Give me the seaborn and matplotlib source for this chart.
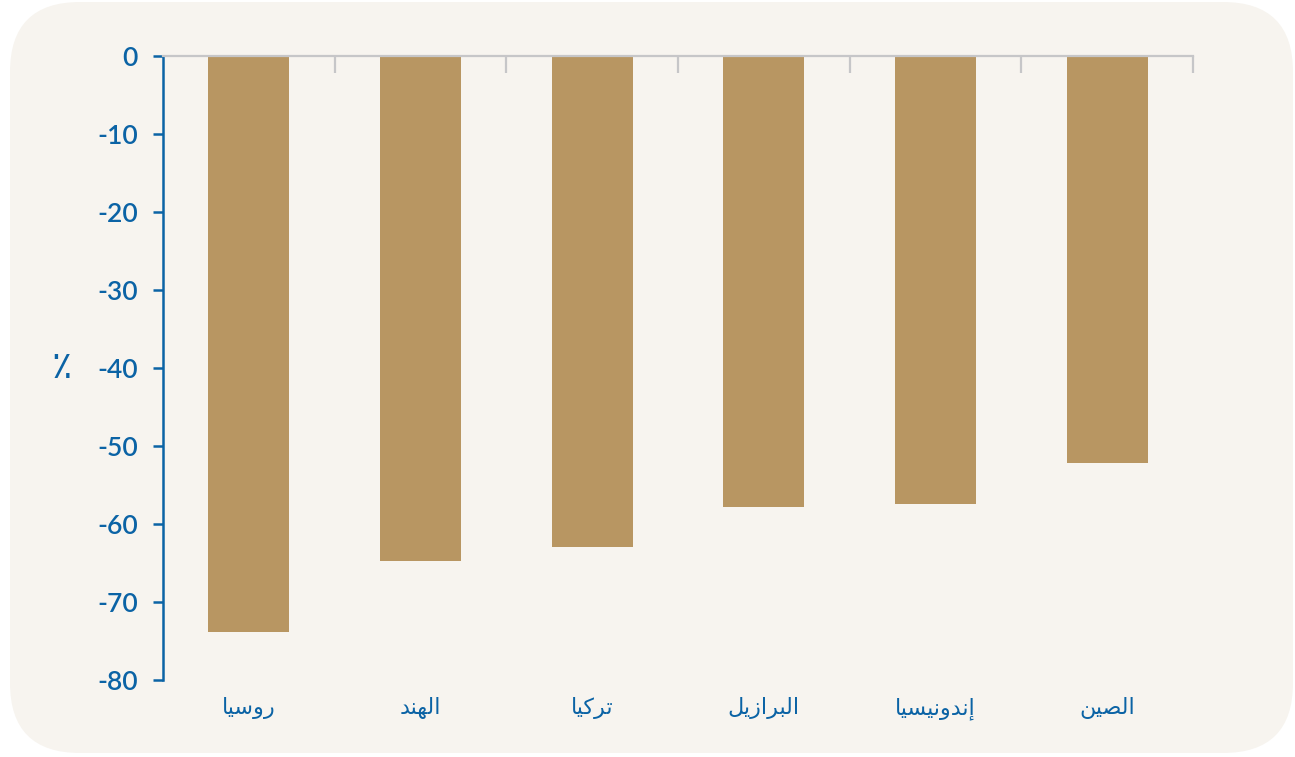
import matplotlib
matplotlib.use("Agg")
import matplotlib.pyplot as plt
from matplotlib.patches import FancyBboxPatch
from matplotlib.transforms import IdentityTransform
import seaborn as sns
import pandas as pd

# Arabic country names, written in presentation forms in visual order
# (matplotlib does no shaping / bidi on its own)
countries = [
    "\uFE8E\uFEF4\uFEB3\uFEED\uFEAD",                          # روسيا
    "\uFEAA\uFEE8\uFEEC\uFEDF\uFE8D",                          # الهند
    "\uFE8E\uFEF4\uFEDB\uFEAE\uFE97",                          # تركيا
    "\uFEDE\uFEF3\uFEAF\uFE8D\uFEAE\uFE92\uFEDF\uFE8D",        # البرازيل
    "\uFE8E\uFEF4\uFEB4\uFEF4\uFEE7\uFEED\uFEAA\uFEE7\uFE87",  # إندونيسيا
    "\uFEE6\uFEF4\uFEBC\uFEDF\uFE8D",                          # الصين
]
change_pct = [-73.9, -64.8, -62.9, -57.8, -57.4, -52.2]
y_ticks = [-80, -70, -60, -50, -40, -30, -20, -10, 0]

blue = "#0b63a5"
bar_color = "#b89662"
grey = "#c6c6c8"
panel = "#f7f4ef"

df = pd.DataFrame({"country": countries, "change": change_pct})

fig = plt.figure(figsize=(12.95, 7.57), dpi=100, facecolor="white")
# rounded panel behind the chart
bg = FancyBboxPatch((10, 4), 1283, 751, boxstyle="round,pad=0,rounding_size=70",
                    transform=IdentityTransform(), facecolor=panel, edgecolor="none", zorder=-5)
fig.patches.append(bg)

ax = fig.add_axes([163 / 1295, 1 - 680 / 757, 1030 / 1295, 624 / 757])
ax.set_facecolor("none")

sns.barplot(data=df, x="country", y="change", color=bar_color, saturation=1,
            width=0.47, ax=ax, zorder=2)

ax.set_xlim(-0.5, 5.5)
ax.set_ylim(-80, 0)
ax.set_yticks(y_ticks)
ax.set_yticklabels([str(t) for t in y_ticks], family=["Lato", "DejaVu Sans"],
                   fontsize=19, fontweight="semibold", color=blue)

ax.set_xticks(range(len(countries)))
ax.set_xticklabels(countries, family="DejaVu Sans", fontsize=16, color=blue)
ax.set_xticks([i + 0.5 for i in range(len(countries))], minor=True)
ax.tick_params(axis="x", which="major", bottom=False, top=False, pad=9)
ax.tick_params(axis="x", which="minor", bottom=False, top=True, direction="in",
               length=12, width=1.6, color=grey)
ax.tick_params(axis="y", which="major", length=7, width=1.8, color=blue, pad=11)

ax.set_xlabel("")
ax.set_ylabel("\u066A", family=["DejaVu Sans"], fontsize=27, color=blue, rotation=0,
              ha="center", va="center")
ax.yaxis.set_label_coords(-0.098, 0.5)

for s in ["right", "bottom"]:
    ax.spines[s].set_visible(False)
ax.spines["left"].set_color(blue)
ax.spines["left"].set_linewidth(1.8)
ax.spines["top"].set_color(grey)
ax.spines["top"].set_linewidth(1.6)

fig.savefig("out.png", dpi=100)
